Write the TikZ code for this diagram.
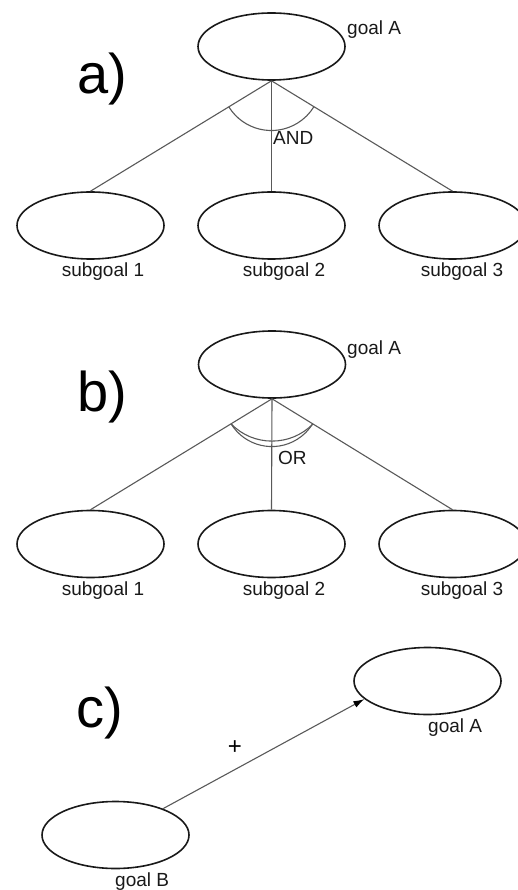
\documentclass[tikz,border=0pt]{standalone}
\usepackage{fontspec}
\setmainfont{Liberation Sans}
\usetikzlibrary{shapes.geometric,arrows.meta,calc}

\tikzset{
  goalnode/.style={draw=black!90, line width=1.6pt, ellipse, minimum width=147pt, minimum height=67pt, inner sep=0pt},
  link/.style={draw=black!65, line width=1.1pt},
  lbl/.style={inner sep=0pt, text=black!90, font=\fontsize{19}{19}\selectfont},
  panel/.style={inner sep=0pt, anchor=base west, font=\fontsize{56}{56}\selectfont},
}

\begin{document}
\begin{tikzpicture}[x=1pt, y=-1pt]
\useasboundingbox (0,0) rectangle (518,890);

% ---------- a) AND decomposition ----------
\node[panel] (pa) at (77,94) {a)};
\node[goalnode] (aA) at (271.5,46.5) {};
\node[lbl, anchor=west] (aAl) at (347,30) {goal A};
\node[goalnode] (a1) at (90.5,225.5) {};
\node[goalnode] (a2) at (271.5,225.5) {};
\node[goalnode] (a3) at (452.5,225.5) {};
\node[lbl] (a1l) at (103,272) {subgoal 1};
\node[lbl] (a2l) at (284,272) {subgoal 2};
\node[lbl] (a3l) at (462,272) {subgoal 3};
\draw[link] (aA.south) -- (a1.north);
\draw[link] (aA.south) -- (a2.north);
\draw[link] (aA.south) -- (a3.north);
\coordinate (aArcL) at ($(aA.south)!50pt!(a1.north)$);
\draw[link] (aArcL) arc[start angle=211.75, end angle=328.25, radius=50pt];
\node[lbl, anchor=west] (aAND) at (273,138) {AND};

% ---------- b) OR decomposition ----------
\node[panel] (pb) at (77,411) {b)};
\node[goalnode] (bA) at (272,364.5) {};
\node[lbl, anchor=west] (bAl) at (347,350) {goal A};
\node[goalnode] (b1) at (90.5,544) {};
\node[goalnode] (b2) at (271.5,544) {};
\node[goalnode] (b3) at (452.5,544) {};
\node[lbl] (b1l) at (103,590.5) {subgoal 1};
\node[lbl] (b2l) at (284,590.5) {subgoal 2};
\node[lbl] (b3l) at (462,590.5) {subgoal 3};
\draw[link] (bA.south) -- (b1.north);
\draw[link] (bA.south) -- (b2.north);
\draw[link] (bA.south) -- (b3.north);
\coordinate (bArcL) at ($(bA.south)!48pt!(b1.north)$);
\coordinate (bArcR) at ($(bA.south)!48pt!(b3.north)$);
\draw[link] (bArcL) arc[start angle=211.75, end angle=328.25, radius=48pt];
\draw[link] (bArcL) to[bend right=46] (bArcR);
\node[lbl, anchor=west] (bOR) at (278,458) {OR};

% ---------- c) positive contribution ----------
\node[panel] (pc) at (76,727) {c)};
\node[goalnode] (cA) at (427.5,681) {};
\node[lbl, anchor=west] (cAl) at (428,728) {goal A};
\node[goalnode] (cB) at (115.5,835) {};
\node[lbl, anchor=west] (cBl) at (115,882) {goal B};
\draw[link, -{Latex[length=11pt, width=7pt, color=black]}] (cB.29.5) -- (cA.196.7);
\node[inner sep=0pt, font=\fontsize{24}{24}\selectfont] (plus) at (235,748) {+};

\end{tikzpicture}
\end{document}
